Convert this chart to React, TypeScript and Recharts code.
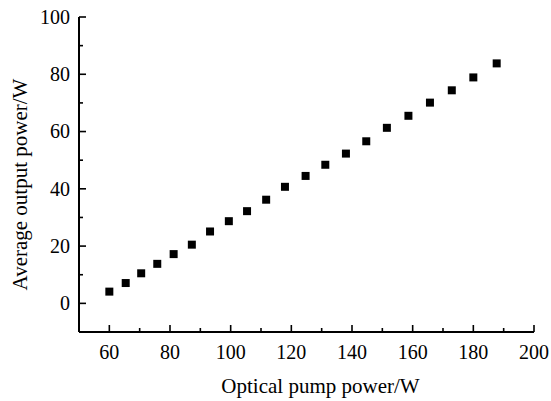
import { ScatterChart, Scatter, XAxis, YAxis, ZAxis } from 'recharts';

// optical pump power (W) and average output power (W)
const pumpPower = [
  60, 65.4, 70.5, 75.8, 81.2, 87.2, 93.2, 99.4, 105.4, 111.7, 117.9,
  124.7, 131.2, 138.0, 144.7, 151.5, 158.6, 165.7, 172.9, 180.0, 187.7,
];
const outputPower = [
  4.1, 7.1, 10.5, 13.8, 17.2, 20.5, 25.1, 28.7, 32.2, 36.2, 40.7,
  44.5, 48.4, 52.3, 56.6, 61.3, 65.5, 70.1, 74.4, 78.9, 83.8,
];

const xTicks = [60, 70, 80, 90, 100, 110, 120, 130, 140, 150, 160, 170, 180, 190, 200];
const yTicks = [0, 10, 20, 30, 40, 50, 60, 70, 80, 90, 100];

const data = pumpPower.map((x, i) => ({ x, y: outputPower[i] }));

const textStyle = { fontFamily: 'Liberation Serif, Times New Roman, serif', fill: '#000' };

function XTick({ x, y, payload }: any) {
  const major = payload.value % 20 === 0;
  return (
    <g>
      <line x1={x} x2={x} y1={y} y2={y - (major ? 7 : 4)} stroke="#000" strokeWidth={1.6} />
      {major && (
        <text x={x} y={y + 27} textAnchor="middle" fontSize={20} style={textStyle}>
          {payload.value}
        </text>
      )}
    </g>
  );
}

function YTick({ x, y, payload }: any) {
  const major = payload.value % 20 === 0;
  return (
    <g>
      <line x1={x} x2={x + (major ? 7 : 4)} y1={y} y2={y} stroke="#000" strokeWidth={1.6} />
      {major && (
        <text x={x - 9} y={y} dy="0.34em" textAnchor="end" fontSize={20} style={textStyle}>
          {payload.value}
        </text>
      )}
    </g>
  );
}

export default function App() {
  return (
    <div style={{ position: 'absolute', left: 0, top: 0, background: '#fff' }}>
      <ScatterChart width={551} height={401} margin={{ top: 17, right: 17, left: 0, bottom: 0 }}>
        <XAxis
          type="number"
          dataKey="x"
          domain={[50, 200]}
          ticks={xTicks}
          interval={0}
          height={69}
          tickSize={0}
          tickMargin={0}
          tickLine={false}
          tick={<XTick />}
          axisLine={{ stroke: '#000', strokeWidth: 2 }}
          label={{
            content: (p: any) => {
              const vb = p.viewBox;
              return (
                <text
                  x={vb.x + vb.width / 2 + 14}
                  y={vb.y + vb.height - 8}
                  textAnchor="middle"
                  fontSize={21}
                  style={textStyle}
                >
                  Optical pump power/W
                </text>
              );
            },
          }}
        />
        <YAxis
          type="number"
          dataKey="y"
          domain={[-10, 100]}
          ticks={yTicks}
          interval={0}
          width={79}
          tickSize={0}
          tickMargin={0}
          tickLine={false}
          tick={<YTick />}
          axisLine={{ stroke: '#000', strokeWidth: 2 }}
          label={{
            content: (p: any) => {
              const vb = p.viewBox;
              const cx = 20;
              const cy = vb.y + vb.height / 2 + 10;
              return (
                <text
                  x={cx}
                  y={cy}
                  dy="0.34em"
                  textAnchor="middle"
                  transform={`rotate(-90, ${cx}, ${cy})`}
                  fontSize={21}
                  style={textStyle}
                >
                  Average output power/W
                </text>
              );
            },
          }}
        />
        <ZAxis range={[56, 56]} />
        <Scatter data={data} shape="square" fill="#000" isAnimationActive={false} />
      </ScatterChart>
    </div>
  );
}
